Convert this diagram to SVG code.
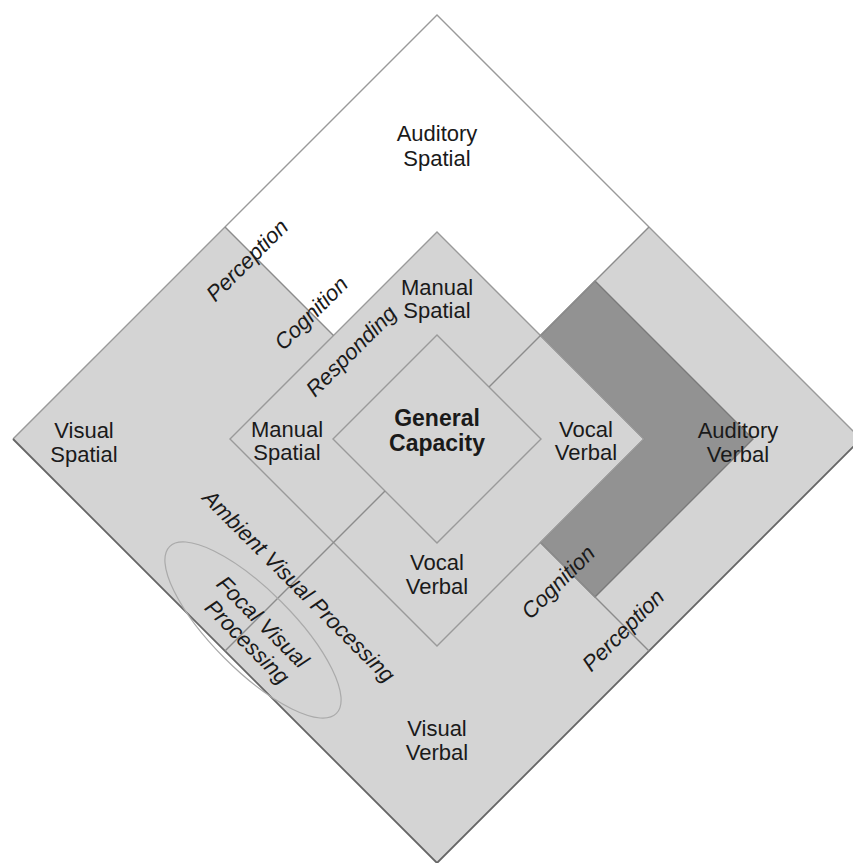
<svg xmlns="http://www.w3.org/2000/svg" width="853" height="863" viewBox="0 0 853 863">
  <style>
    .lbl { font-family: "Liberation Sans", Arial, sans-serif; font-size: 22px; fill: #1a1a1a; text-anchor: middle; }
    .bold { font-weight: bold; font-size: 23px; }
    .it { font-style: italic; }
    .light { fill: #d4d4d4; }
    .edge { fill: none; stroke: #9a9a9a; stroke-width: 1.4; }
    .div { fill: none; stroke: #8c8c8c; stroke-width: 1.4; }
  </style>

  <!-- outer square: four processing quadrants -->
  <g id="visual-verbal-quadrants">
    <polygon class="light" points="437,15 861,439 437,863 13,439"/>
  </g>
  <g id="auditory-spatial">
    <polygon fill="#ffffff" points="437,15 649,227 437,439 225,227"/>
    <text class="lbl" x="437" y="141">Auditory</text>
    <text class="lbl" x="437" y="166">Spatial</text>
  </g>
  <g id="visual-spatial">
    <text class="lbl" x="84" y="438">Visual</text>
    <text class="lbl" x="84" y="462">Spatial</text>
  </g>
  <g id="visual-verbal">
    <text class="lbl" x="437" y="736">Visual</text>
    <text class="lbl" x="437" y="760">Verbal</text>
  </g>

  <!-- responding ring -->
  <g id="responding-ring">
    <polygon class="light" points="437,232 644,439 437,646 230,439"/>
  </g>

  <!-- highlighted chevron band -->
  <g id="auditory-verbal-cognition">
    <polygon fill="#929292" stroke="#7a7a7a" stroke-width="1.4"
      points="540.5,335.5 595,281 753,439 595,597 540.5,542.5 644,439"/>
  </g>

  <g id="auditory-verbal">
    <text class="lbl" x="738" y="438">Auditory</text>
    <text class="lbl" x="738" y="462">Verbal</text>
  </g>

  <g id="manual-spatial-top">
    <text class="lbl" x="437" y="295">Manual</text>
    <text class="lbl" x="437" y="318">Spatial</text>
  </g>
  <g id="manual-spatial-left">
    <text class="lbl" x="287" y="437">Manual</text>
    <text class="lbl" x="287" y="460">Spatial</text>
  </g>
  <g id="vocal-verbal-right">
    <text class="lbl" x="586" y="437">Vocal</text>
    <text class="lbl" x="586" y="460">Verbal</text>
  </g>
  <g id="vocal-verbal-bottom">
    <text class="lbl" x="437" y="570">Vocal</text>
    <text class="lbl" x="437" y="594">Verbal</text>
  </g>

  <!-- centre -->
  <g id="general-capacity">
    <polygon class="light" stroke="#9a9a9a" stroke-width="1.4" points="437,335 541,439 437,543 333,439"/>
    <text class="lbl bold" x="437" y="426">General</text>
    <text class="lbl bold" x="437" y="451">Capacity</text>
  </g>

  <!-- dividing lines and outlines -->
  <g id="connectors">
    <polyline class="edge" points="13,439 437,15 861,439"/>
    <polyline fill="none" stroke="#666666" stroke-width="1.8" points="861,439 437,863 13,439"/>
    <polygon class="edge" points="437,232 644,439 437,646 230,439"/>
    <line class="div" x1="225" y1="227" x2="333.5" y2="335.5"/>
    <line class="div" x1="649" y1="227" x2="540.5" y2="335.5"/>
    <line class="div" x1="540.5" y1="335.5" x2="489" y2="387"/>
    <line class="div" x1="385" y1="491" x2="225" y2="651"/>
    <line class="div" x1="540.5" y1="542.5" x2="649" y2="651"/>
  </g>

  <!-- stage labels -->
  <g id="stage-labels">
    <text class="lbl it" transform="translate(247,260) rotate(-45)" dy="0.35em">Perception</text>
    <text class="lbl it" transform="translate(311,313) rotate(-45)" dy="0.35em">Cognition</text>
    <text class="lbl it" transform="translate(351,351) rotate(-45)" dy="0.35em">Responding</text>
    <text class="lbl it" transform="translate(558,582) rotate(-45)" dy="0.35em">Cognition</text>
    <text class="lbl it" transform="translate(623,630) rotate(-45)" dy="0.35em">Perception</text>
  </g>

  <g id="ambient-visual-processing">
    <text class="lbl it" transform="translate(299,586) rotate(45)" dy="0.35em">Ambient Visual Processing</text>
  </g>

  <g id="focal-visual-processing">
    <ellipse cx="253" cy="630" rx="118" ry="40" transform="rotate(45 253 630)" fill="none" stroke="#aaaaaa" stroke-width="1.2"/>
    <text class="lbl it" transform="translate(256,633) rotate(45)">
      <tspan x="0" y="-5">Focal Visual</tspan>
      <tspan x="0" y="20">Processing</tspan>
    </text>
  </g>
</svg>
